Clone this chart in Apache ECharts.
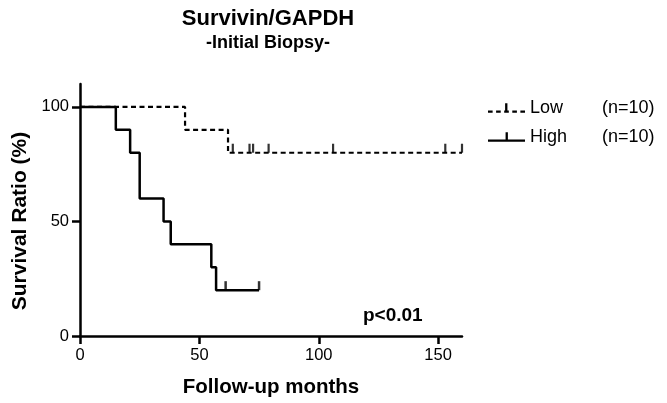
<!DOCTYPE html>
<html>
<head>
<meta charset="UTF-8">
<title>Survivin/GAPDH</title>
<script src="https://cdn.jsdelivr.net/npm/echarts@6/dist/echarts.min.js"></script>
<style>
  html, body { margin: 0; padding: 0; background: #fff; }
  #main { width: 667px; height: 403px; }
</style>
</head>
<body>
<div id="main"></div>
<script>
// Kaplan-Meier steps: time of each event and survival after it
var lowTimes = [0, 44, 62, 160];
var lowSurv = [100, 90, 80, 80];
var lowCensor = [64, 71, 72.5, 79, 106, 153, 160];

var highTimes = [0, 15, 21, 25, 35, 38, 55, 57, 75];
var highSurv = [100, 90, 80, 60, 50, 40, 30, 20, 20];
var highCensor = [61, 75];

var xTicks = [0, 50, 100, 150];
var yTicks = [0, 50, 100];

var FONT = "'Liberation Sans', Arial, Helvetica, sans-serif";

function steps(times, surv) {
  var pts = [[times[0], surv[0]]];
  for (var i = 1; i < times.length; i++) {
    pts.push([times[i], surv[i - 1]]);
    pts.push([times[i], surv[i]]);
  }
  return pts;
}

function survAt(times, surv, t) {
  var s = surv[0];
  for (var i = 0; i < times.length; i++) {
    if (times[i] <= t) s = surv[i];
  }
  return s;
}

function censorPts(times, surv, cens) {
  return cens.map(function (t) { return [t, survAt(times, surv, t)]; });
}

var lowIcon = 'path://M0,8h5v2.5h-5z M8.75,8h5v2.5h-5z M17.5,8h5v2.5h-5z M18.5,0h2.5v8h-2.5z M26.25,8h5v2.5h-5z M35,8h5v2.5h-5z';
var highIcon = 'path://M0,8h40v2.5h-40z M19,0h2.5v8h-2.5z';

var chart = echarts.init(document.getElementById('main'));

chart.setOption({
  animation: false,
  title: {
    text: 'Survivin/GAPDH',
    subtext: '-Initial Biopsy-',
    left: 263,
    top: 3,
    textAlign: 'center',
    itemGap: 4,
    textStyle: { fontFamily: FONT, fontSize: 22, fontWeight: 'bold', color: '#000' },
    subtextStyle: { fontFamily: FONT, fontSize: 18, fontWeight: 'bold', color: '#000' }
  },
  legend: {
    orient: 'vertical',
    left: 483,
    top: 94,
    itemWidth: 37,
    itemHeight: 10,
    itemGap: 11,
    selectedMode: false,
    itemStyle: { color: '#000', borderWidth: 0 },
    data: [
      { name: 'Low', icon: lowIcon },
      { name: 'High', icon: highIcon }
    ],
    formatter: function (name) {
      return '{a|' + name + '}{b|(n=10)}';
    },
    textStyle: {
      fontFamily: FONT,
      fontSize: 18,
      color: '#000',
      rich: {
        a: { fontFamily: FONT, fontSize: 18, width: 72, color: '#000' },
        b: { fontFamily: FONT, fontSize: 18, color: '#000' }
      }
    }
  },
  grid: { left: 80, right: 205, top: 84, bottom: 64 },
  xAxis: {
    type: 'value',
    min: 0,
    max: 160,
    name: 'Follow-up months',
    nameLocation: 'middle',
    nameGap: 41,
    nameTextStyle: { fontFamily: FONT, fontSize: 20.5, fontWeight: 'bold', color: '#000' },
    axisLine: { lineStyle: { color: '#000', width: 2.5 } },
    axisTick: { length: 8, lineStyle: { color: '#000', width: 2.5 }, customValues: xTicks },
    axisLabel: { fontFamily: FONT, fontSize: 16.5, color: '#000', margin: 11, customValues: xTicks },
    splitLine: { show: false }
  },
  yAxis: {
    type: 'value',
    min: 0,
    max: 110,
    name: 'Survival Ratio (%)',
    nameLocation: 'middle',
    nameGap: 42,
    nameTextStyle: { fontFamily: FONT, fontSize: 21, fontWeight: 'bold', color: '#000', padding: [0, 22, 0, 0] },
    axisLine: { show: true, lineStyle: { color: '#000', width: 2.5 } },
    axisTick: { show: true, length: 8, lineStyle: { color: '#000', width: 2.5 }, customValues: yTicks },
    axisLabel: { fontFamily: FONT, fontSize: 16.5, color: '#000', margin: 11, customValues: yTicks },
    splitLine: { show: false }
  },
  graphic: [{
    type: 'text',
    left: 363,
    top: 306,
    style: { text: 'p<0.01', fontFamily: FONT, fontSize: 19, fontWeight: 'bold', fill: '#000' }
  }],
  series: [
    {
      name: 'Low',
      type: 'line',
      data: steps(lowTimes, lowSurv),
      symbol: 'none',
      color: '#000',
      lineStyle: { color: '#000', width: 2.2, type: [5, 3.5] },
      z: 2
    },
    {
      name: 'High',
      type: 'line',
      data: steps(highTimes, highSurv),
      symbol: 'none',
      color: '#000',
      lineStyle: { color: '#000', width: 2.5 },
      z: 3
    },
    {
      name: 'Low censored',
      type: 'scatter',
      data: censorPts(lowTimes, lowSurv, lowCensor),
      symbol: 'rect',
      symbolSize: [2.2, 9],
      symbolOffset: [0, '-50%'],
      itemStyle: { color: '#000' },
      z: 4
    },
    {
      name: 'High censored',
      type: 'scatter',
      data: censorPts(highTimes, highSurv, highCensor),
      symbol: 'rect',
      symbolSize: [2.5, 9],
      symbolOffset: [0, '-50%'],
      itemStyle: { color: '#000' },
      z: 4
    }
  ]
});
</script>
</body>
</html>
